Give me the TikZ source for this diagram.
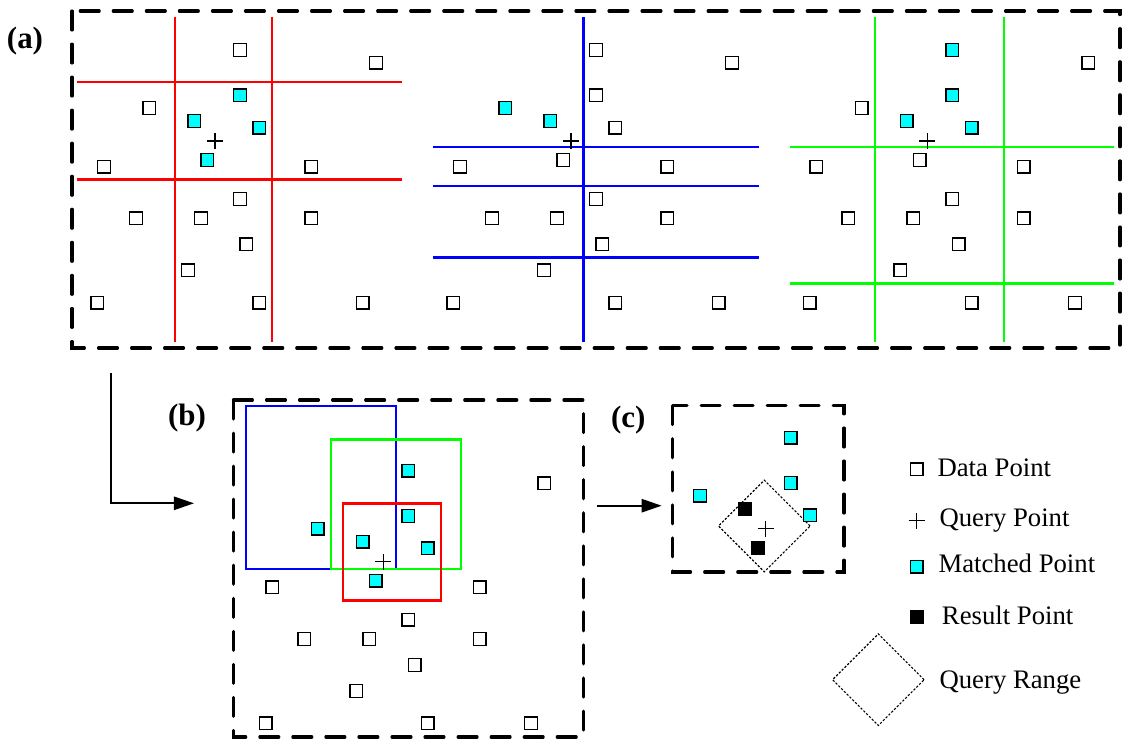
\documentclass[tikz,border=0pt]{standalone}
\usepackage{fontspec}
\setmainfont{Liberation Serif}
\usetikzlibrary{arrows.meta,shapes.geometric,shapes.misc}

\definecolor{matchcyan}{RGB}{0,255,255}
\definecolor{gridgreen}{RGB}{0,255,0}

% data points, shared by every panel
\newcommand{\ptlist}{240/50, 376/62.7, 149.3/108, 240/95.3, 194.3/121,
  259.3/127.7, 207.3/160, 104/166.7, 311.3/166.7, 240/199, 136/218.3,
  201/218.3, 311.3/218.3, 246.3/244.3, 188/270.3, 97.3/302.7,
  259.3/302.7, 362.7/302.7}

\begin{document}
\begin{tikzpicture}[x=0.025cm, y=-0.025cm,
    dashbox/.style={line width=2.2pt, dash pattern=on 13.5pt off 10pt, line cap=round},
    cutline/.style={line width=1.7pt},
    datapt/.style={rectangle, draw, line width=0.9pt, fill=white,
                   minimum size=0.32cm, inner sep=0pt},
    matchpt/.style={datapt, fill=matchcyan},
    resultpt/.style={datapt, fill=black},
    querypt/.style={cross out, draw, line width=0.9pt, rotate=45,
                    minimum size=0.25cm, inner sep=0pt},
    qrange/.style={diamond, draw, line width=0.8pt, dash pattern=on 1.6pt off 1.2pt,
                   minimum size=2.3cm, inner sep=0pt},
    panel/.style={font=\fontsize{22}{26}\selectfont\bfseries, inner sep=0pt},
    legtext/.style={font=\fontsize{19}{23}\selectfont, anchor=base west, inner sep=0pt},
    link/.style={line width=1.4pt, -{Triangle[length=0.5cm, width=0.33cm]}}
]
    \useasboundingbox (0,0) rectangle (1124,738);

    % (a)
    \node[panel] (la) at (25,41) {(a)};
    \draw[dashbox] (72,11) rectangle (1120,348);

    \draw[cutline, red] (175.3,16.7) -- (175.3,342.3);
    \draw[cutline, red] (272,16.7) -- (272,342.3);
    \draw[cutline, red] (77.3,82) -- (402.3,82);
    \draw[cutline, red] (77.3,179.3) -- (402.3,179.3);

    \draw[cutline, blue] (583.3,17) -- (583.3,342);
    \foreach \y in {147,186,257.3}
        \draw[cutline, blue] (433.3,\y) -- (758.7,\y);

    \draw[cutline, gridgreen] (874.7,17) -- (874.7,342);
    \draw[cutline, gridgreen] (1004,17) -- (1004,342);
    \draw[cutline, gridgreen] (790,147) -- (1114.3,147);
    \draw[cutline, gridgreen] (790,283.3) -- (1114.3,283.3);

    \foreach \dx/\nm in {0/r, 356/b, 712.3/g} {
        \begin{scope}[shift={(\dx,0)}]
            \foreach \x/\y [count=\i] in \ptlist
                \node[datapt] (\nm\i) at (\x,\y) {};
            \node[querypt] (\nm q) at (215,141) {};
        \end{scope}
    }
    \foreach \i in {4,5,6,7} \node[matchpt] (rm\i) at (r\i) {};
    \foreach \i in {3,5} \node[matchpt] (bm\i) at (b\i) {};
    \foreach \i in {1,4,5,6} \node[matchpt] (gm\i) at (g\i) {};

    % (b)
    \node[panel] (lb) at (187,418) {(b)};
    \draw[dashbox] (233.3,400) rectangle (583.3,737);
    \draw[cutline, blue] (246,406) rectangle (396,568.7);
    \draw[cutline, gridgreen] (330.7,439.3) rectangle (461,568.7);
    \draw[cutline, red] (343.3,503.3) rectangle (440.7,600.3);
    \begin{scope}[shift={(168.3,420.7)}]
        \foreach \x/\y [count=\i] in \ptlist
            \node[datapt] (u\i) at (\x,\y) {};
        \node[querypt] (uq) at (215,141) {};
    \end{scope}
    \foreach \i in {1,3,4,5,6,7} \node[matchpt] (um\i) at (u\i) {};

    % (c)
    \node[panel] (lc) at (628.3,420) {(c)};
    \draw[dashbox] (672.7,405.7) rectangle (844,572);
    \node[qrange] (rng) at (764.3,526) {};
    \begin{scope}[shift={(550.7,387.7)}]
        \node[matchpt] (c1) at (240,50) {};
        \node[matchpt] (c3) at (149.3,108) {};
        \node[matchpt] (c4) at (240,95.3) {};
        \node[matchpt] (c6) at (259.3,127.7) {};
        \node[resultpt] (c5) at (194.3,121) {};
        \node[resultpt] (c7) at (207.3,160) {};
        \node[querypt] (cq) at (215,141) {};
    \end{scope}

    % arrows between panels
    \coordinate (aout) at (110.7,373.3);
    \coordinate (bin) at (194,503.3);
    \coordinate (bout) at (596.7,505.7);
    \coordinate (cin) at (661.7,505.7);
    \draw[link] (aout) |- (bin);
    \draw[link] (bout) -- (cin);

    % legend
    \node[datapt] (kdata) at (916.7,469.3) {};
    \node[legtext] (tdata) at (937.3,476) {Data Point};
    \node[querypt] (kquery) at (916.7,520.7) {};
    \node[legtext] (tquery) at (939.3,526.7) {Query Point};
    \node[matchpt] (kmatch) at (916.7,566.7) {};
    \node[legtext] (tmatch) at (938.3,572.7) {Matched Point};
    \node[resultpt] (kresult) at (916.7,616.7) {};
    \node[legtext] (tresult) at (941.7,624) {Result Point};
    \node[qrange] (krange) at (878.3,679.7) {};
    \node[legtext] (trange) at (939.3,688.3) {Query Range};
\end{tikzpicture}
\end{document}
